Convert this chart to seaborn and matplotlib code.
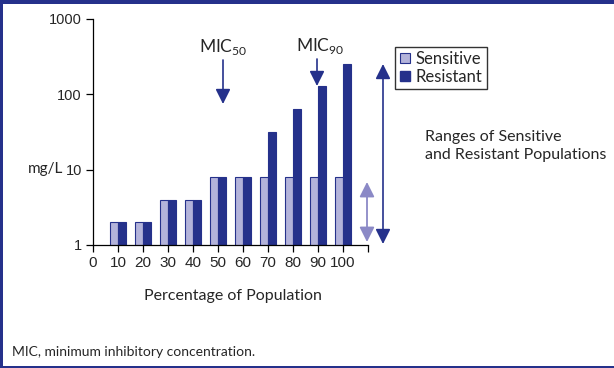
import matplotlib
matplotlib.use("Agg")
import matplotlib.pyplot as plt
import seaborn as sns
import pandas as pd
from matplotlib.patches import FancyArrowPatch, Rectangle
from matplotlib.lines import Line2D

# Percentage of population and MIC values (mg/L)
percent = [10, 20, 30, 40, 50, 60, 70, 80, 90, 100]
sensitive = [2, 2, 4, 4, 8, 8, 8, 8, 8, 8]
resistant = [2, 2, 4, 4, 8, 8, 32, 64, 128, 256]
groups = ["Sensitive", "Resistant"]
x_ticks = list(range(0, 111, 10))
x_tick_labels = [str(v) for v in range(0, 101, 10)] + [""]
y_ticks = [1, 10, 100, 1000]
y_tick_labels = ["1", "10", "100", "1000"]

NAVY = "#25318b"
LAVENDER = "#b3b3da"
LIGHT_ARROW = "#8b89c6"

df = pd.DataFrame({
    "percent": percent * 2,
    "mic": sensitive + resistant,
    "group": [groups[0]] * len(percent) + [groups[1]] * len(percent),
})

sns.set_theme(style="white")
plt.rcParams["font.family"] = ["Lato", "DejaVu Sans"]

W, H = 614, 368
fig = plt.figure(figsize=(W / 100, H / 100), dpi=100)


def fx(px):
    return px / W


def fy(py):
    return 1 - py / H


ax = fig.add_axes([fx(93), fy(245), fx(368) - fx(93), fy(19) - fy(245)])
ax.set_yscale("log")
sns.barplot(data=df, x="percent", y="mic", hue="group", native_scale=True,
            palette={groups[0]: LAVENDER, groups[1]: NAVY}, width=0.62,
            edgecolor=NAVY, linewidth=0.8, saturation=1, legend=False, ax=ax,
            errorbar=None)

ax.set_xlim(0, 110)
ax.set_ylim(1, 1000)
ax.set_xticks(x_ticks)
ax.set_xticklabels(x_tick_labels, fontsize=11, family=["Liberation Sans"])
ax.set_yticks(y_ticks)
ax.set_yticklabels(y_tick_labels, fontsize=10.5, family=["Liberation Sans"])
ax.yaxis.set_minor_locator(matplotlib.ticker.NullLocator())
ax.tick_params(axis="both", which="major", direction="out", length=5, width=0.9,
               color="black", bottom=True, left=True, pad=3)
for side in ["top", "right"]:
    ax.spines[side].set_visible(False)
for side in ["left", "bottom"]:
    ax.spines[side].set_color("black")
    ax.spines[side].set_linewidth(0.9)
ax.set_xlabel("")
ax.set_ylabel("")

fig.text(fx(233), fy(296), "Percentage of Population", ha="center", va="center",
         fontsize=11.5)
fig.text(fx(28), fy(169), "mg/L", ha="left", va="center", fontsize=11)


def arrow(x0, y0, x1, y1, color, both=False, lw=1.2):
    style = "<|-|>" if both else "-|>"
    a = FancyArrowPatch((fx(x0), fy(y0)), (fx(x1), fy(y1)),
                        transform=fig.transFigure, arrowstyle=style,
                        mutation_scale=1, color=color, lw=lw,
                        shrinkA=0, shrinkB=0)
    a.set_arrowstyle(style, head_length=9, head_width=4.5)
    fig.add_artist(a)


# MIC50 / MIC90 markers
fig.text(fx(223), fy(47), r"MIC$_{\mathregular{50}}$", ha="center", va="center",
         fontsize=12.5)
arrow(223, 60, 223, 104, NAVY)
fig.text(fx(320), fy(46), r"MIC$_{\mathregular{90}}$", ha="center", va="center",
         fontsize=12.5)
arrow(317, 59, 317, 86, NAVY)

# Range arrows
arrow(383, 64, 383, 244, NAVY, both=True)
arrow(367, 182, 367, 242, LIGHT_ARROW, both=True, lw=1.3)

fig.text(fx(425), fy(146), "Ranges of Sensitive\nand Resistant Populations",
         ha="left", va="center", fontsize=11.5, linespacing=1.35)

handles = [
    Line2D([], [], marker="s", ls="", markersize=7, markerfacecolor=LAVENDER,
           markeredgecolor=NAVY, markeredgewidth=0.8),
    Line2D([], [], marker="s", ls="", markersize=7, markerfacecolor=NAVY,
           markeredgecolor=NAVY),
]
leg = fig.legend(handles, groups, loc="upper left",
                 bbox_to_anchor=(fx(395), fy(47)), frameon=True, fancybox=False,
                 fontsize=12, handlelength=0.7, handletextpad=0.3,
                 borderpad=0.25, labelspacing=0.1, borderaxespad=0,
                 edgecolor="black")
leg.get_frame().set_linewidth(1.0)

fig.text(fx(12), fy(352), "MIC, minimum inhibitory concentration.",
         ha="left", va="center", fontsize=10)

# Outer frame: thick band on top, thin rules left and bottom
fig.add_artist(Rectangle((0, fy(4)), 1, 4 / H, transform=fig.transFigure,
                         color=NAVY, lw=0))
fig.add_artist(Rectangle((0, 0), 2.5 / W, 1, transform=fig.transFigure,
                         color=NAVY, lw=0))
fig.add_artist(Rectangle((0, 0), 1, 2 / H, transform=fig.transFigure,
                         color=NAVY, lw=0))

fig.savefig("out.png", dpi=100)
